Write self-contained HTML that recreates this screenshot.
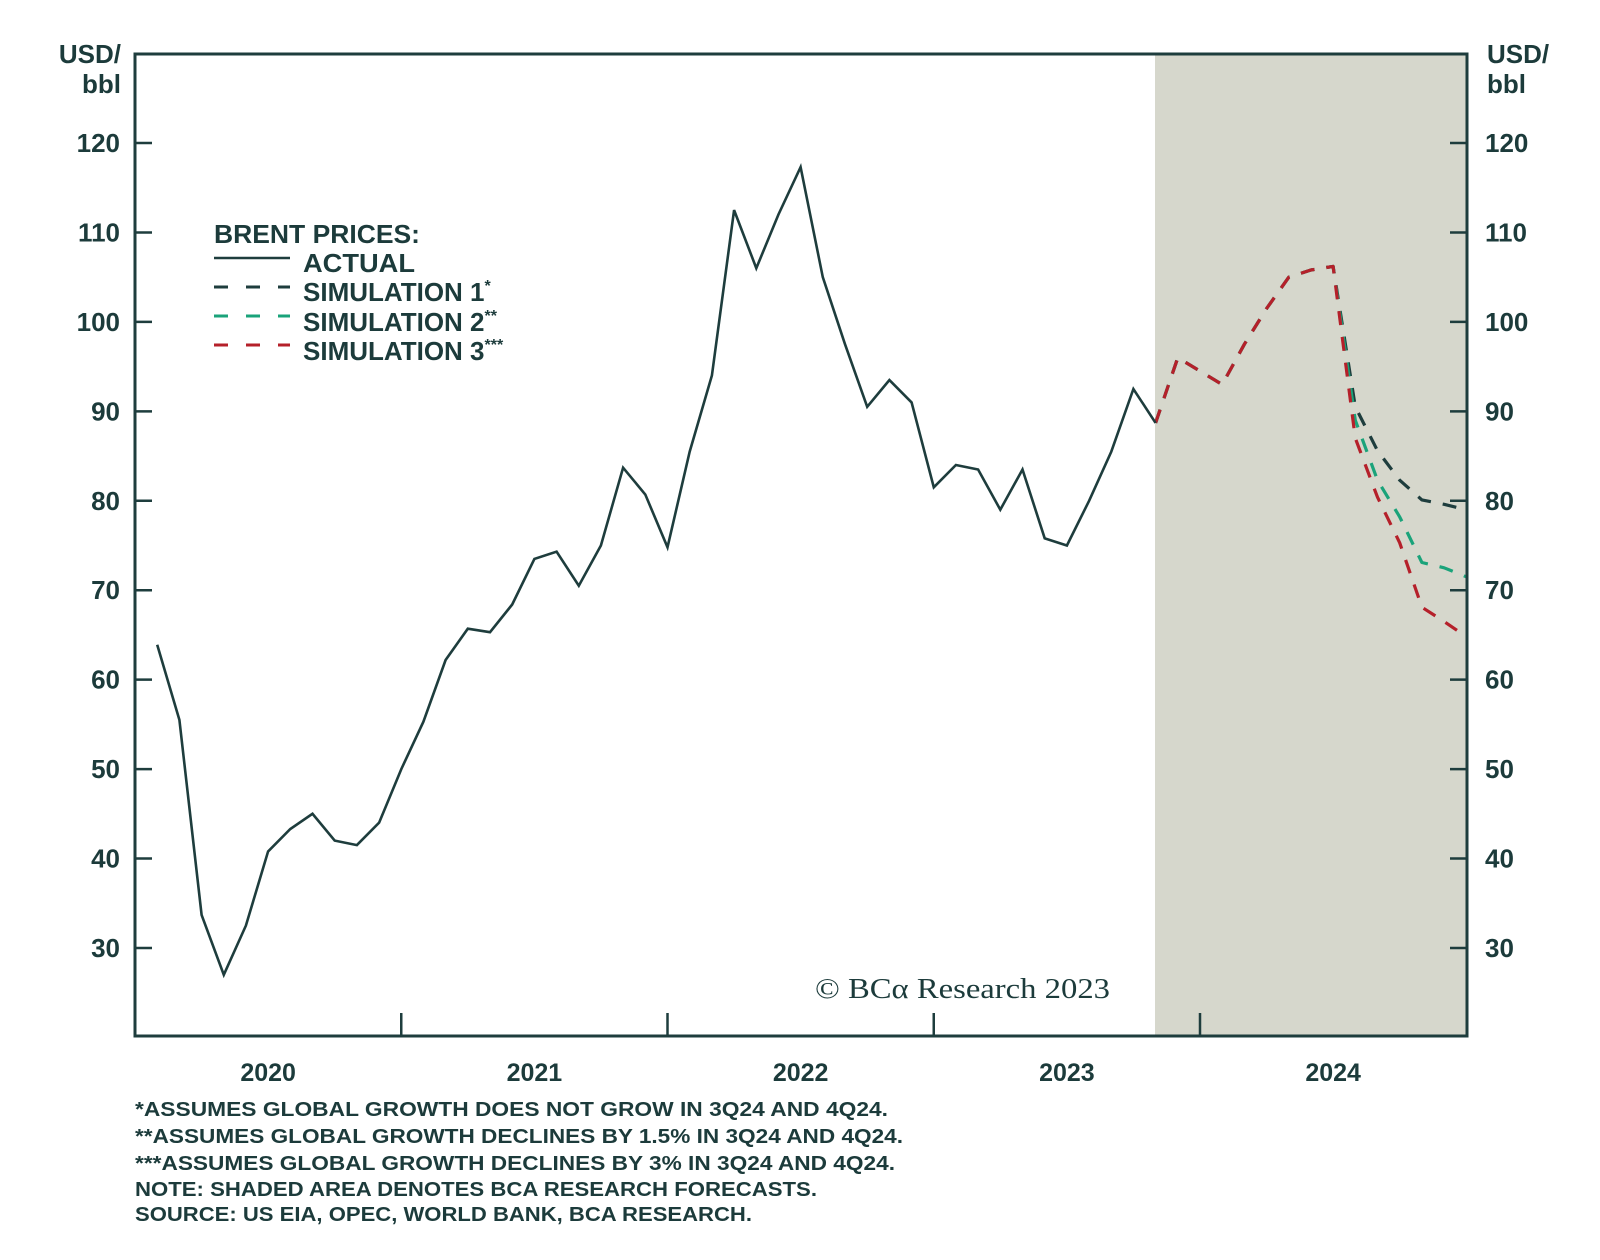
<!DOCTYPE html>
<html><head><meta charset="utf-8"><style>
html,body{margin:0;padding:0;background:#fff;}
svg{display:block;}
text{font-family:"Liberation Sans",sans-serif;fill:#1c3b3b;}
</style></head><body>
<svg id="chart" width="1600" height="1260" viewBox="0 0 1600 1260" xmlns="http://www.w3.org/2000/svg">
<rect x="1155" y="54" width="312" height="982" fill="#d6d7cc"/>
<g id="marks"></g>
<g id="axes"></g>
<g>
<text x="214" y="243" font-size="26" font-weight="bold" textLength="206" lengthAdjust="spacingAndGlyphs">BRENT PRICES:</text>
<line x1="214" y1="258" x2="290" y2="258" stroke="#1e3d3d" stroke-width="2.5"/>
<text x="303" y="272" font-size="26" font-weight="bold" textLength="112" lengthAdjust="spacingAndGlyphs">ACTUAL</text>
<line x1="214" y1="287" x2="290" y2="287" stroke="#1e3d3d" stroke-width="3" stroke-dasharray="14,18"/>
<text x="303" y="301" font-size="26" font-weight="bold">SIMULATION 1<tspan font-size="16" dy="-10">*</tspan></text>
<line x1="214" y1="316" x2="290" y2="316" stroke="#1aa37a" stroke-width="3" stroke-dasharray="14,18"/>
<text x="303" y="331" font-size="26" font-weight="bold">SIMULATION 2<tspan font-size="16" dy="-10">**</tspan></text>
<line x1="214" y1="345" x2="290" y2="345" stroke="#b5202a" stroke-width="3" stroke-dasharray="14,18"/>
<text x="303" y="360" font-size="26" font-weight="bold">SIMULATION 3<tspan font-size="16" dy="-10">***</tspan></text>
</g>
<text x="121" y="63" font-size="26" font-weight="bold" text-anchor="end">USD/</text>
<text x="121" y="93" font-size="26" font-weight="bold" text-anchor="end">bbl</text>
<text x="1487" y="63" font-size="26" font-weight="bold">USD/</text>
<text x="1487" y="93" font-size="26" font-weight="bold">bbl</text>
<text x="815" y="998" font-size="29" textLength="295" lengthAdjust="spacingAndGlyphs" style="font-family:'Liberation Serif',serif">© BCα Research 2023</text>
<g font-size="20" font-weight="bold">
<text x="135" y="1116" textLength="753" lengthAdjust="spacingAndGlyphs">*ASSUMES GLOBAL GROWTH DOES NOT GROW IN 3Q24 AND 4Q24.</text>
<text x="135" y="1143" textLength="768" lengthAdjust="spacingAndGlyphs">**ASSUMES GLOBAL GROWTH DECLINES BY 1.5% IN 3Q24 AND 4Q24.</text>
<text x="135" y="1170" textLength="760" lengthAdjust="spacingAndGlyphs">***ASSUMES GLOBAL GROWTH DECLINES BY 3% IN 3Q24 AND 4Q24.</text>
<text x="135" y="1196" textLength="682" lengthAdjust="spacingAndGlyphs">NOTE: SHADED AREA DENOTES BCA RESEARCH FORECASTS.</text>
<text x="135" y="1221" textLength="617" lengthAdjust="spacingAndGlyphs">SOURCE: US EIA, OPEC, WORLD BANK, BCA RESEARCH.</text>
</g>
</svg>
<script>
const actual = [63.9,55.5,33.7,27,32.5,40.8,43.3,45,42,41.5,44,50,55.3,62.2,65.7,65.3,68.4,73.5,74.3,70.5,75,83.7,80.7,74.8,85.5,94,112.5,106,112,117.3,105,97.5,90.5,93.5,91,81.5,84,83.5,79,83.5,75.8,75,80,85.5,92.5,88.7];
const forecastStart = 45;
const commonPath = [88.7,96,94.5,93,97.5,101.5,105,105.8,106.2];
const sim1 = [90.5,85.6,82.3,80.1,79.6,79];
const sim2 = [89,82.3,78.2,73.1,72.5,71.5];
const sim3 = [87,80.4,75.3,68.1,66.5,64.8];
const yTicks = [30,40,50,60,70,80,90,100,110,120];
const years = ["2020","2021","2022","2023","2024"];

const NS = "http://www.w3.org/2000/svg";
const L = 135, R = 1467, T = 54, B = 1036;
const month = (1200 - L) / 48;
function xScale(i){ return L + month * (i + 1); }
function yScale(v){ return 143 + (120 - v) * 8.944; }
function mk(tag, attrs, parent){ const e = document.createElementNS(NS, tag); for (const k in attrs) e.setAttribute(k, attrs[k]); parent.appendChild(e); return e; }
const marks = document.getElementById('marks');
const axes = document.getElementById('axes');

function pts(vals, start){ return vals.map((v,k)=>xScale(start+k).toFixed(1)+','+yScale(v).toFixed(1)).join(' '); }

const simColors = ["#1e3d3d","#1aa37a","#b5202a"];
const sims = [sim1, sim2, sim3];
const simNames = ['simulation-1-line','simulation-2-line','simulation-3-line'];
sims.forEach((s, j) => {
  const full = commonPath.concat(s);
  const p = mk('polyline', {points: pts(full, forecastStart), fill:'none', stroke: simColors[j], 'stroke-width':3.2, 'stroke-dasharray':'14,12', 'stroke-linejoin':'round'}, marks);
  
  
});
const a = mk('polyline', {points: pts(actual, 0), fill:'none', stroke:'#1e3d3d', 'stroke-width':2.6, 'stroke-linejoin':'miter'}, marks);



const frame = mk('path', {d:`M${L},${T} H${R} V${B} H${L} Z`, fill:'none', stroke:'#1e3d3d', 'stroke-width':3}, axes);



yTicks.forEach(v => {
  const y = yScale(v);
  const t1 = mk('line', {x1:L, x2:L+17, y1:y, y2:y, stroke:'#1e3d3d', 'stroke-width':2.5}, axes);
  
  
  const t2 = mk('line', {x1:R-17, x2:R, y1:y, y2:y, stroke:'#1e3d3d', 'stroke-width':2.5}, axes);
  
  
  const l1 = mk('text', {x:120, y:y+9, 'font-size':26, 'font-weight':'bold', 'text-anchor':'end'}, axes);
  l1.textContent = v;
  
  
  const l2 = mk('text', {x:1485, y:y+9, 'font-size':26, 'font-weight':'bold'}, axes);
  l2.textContent = v;
  
  
});
years.forEach((yr, k) => {
  if (k > 0) {
    const x = L + 12 * month * k;
    const t = mk('line', {x1:x, x2:x, y1:B-23, y2:B, stroke:'#1e3d3d', 'stroke-width':2.5}, axes);
    
    
  }
  const lb = mk('text', {x: L + 12*month*k + 6*month, y:1081, 'font-size':25, 'font-weight':'bold', 'text-anchor':'middle'}, axes);
  lb.textContent = yr;
  
  
});
</script>
</body></html>
